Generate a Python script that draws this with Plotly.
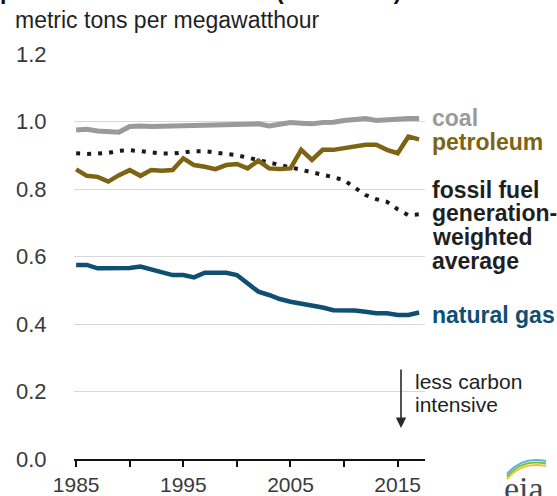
import plotly.graph_objects as go

# Carbon intensity of power sector fossil fuels, metric tons CO2 per MWh
years = list(range(1985, 2018))

coal = [0.975, 0.977, 0.972, 0.969, 0.968, 0.985, 0.987, 0.985, 0.986, 0.986,
        0.987, 0.987, 0.988, 0.989, 0.990, 0.992, 0.993, 0.993, 0.987, 0.993,
        0.997, 0.995, 0.993, 0.997, 0.998, 1.003, 1.005, 1.009, 1.003, 1.006,
        1.009, 1.009, 1.009]

petroleum = [0.858, 0.839, 0.836, 0.822, 0.841, 0.856, 0.839, 0.856, 0.854, 0.856,
             0.891, 0.871, 0.866, 0.859, 0.871, 0.874, 0.861, 0.884, 0.861, 0.859,
             0.861, 0.916, 0.886, 0.916, 0.916, 0.921, 0.926, 0.931, 0.931, 0.916,
             0.906, 0.955, 0.947]

weighted_avg = [0.906, 0.904, 0.905, 0.907, 0.913, 0.915, 0.912, 0.908, 0.905, 0.905,
                0.908, 0.912, 0.912, 0.908, 0.904, 0.900, 0.893, 0.886, 0.878, 0.871,
                0.864, 0.856, 0.849, 0.841, 0.835, 0.826, 0.805, 0.782, 0.770, 0.762,
                0.740, 0.722, 0.725]

natural_gas = [0.575, 0.575, 0.565, 0.565, 0.565, 0.566, 0.570, 0.562, 0.552, 0.545,
               0.545, 0.538, 0.552, 0.552, 0.552, 0.545, 0.520, 0.496, 0.486, 0.474,
               0.466, 0.461, 0.456, 0.449, 0.441, 0.441, 0.440, 0.436, 0.432, 0.432,
               0.427, 0.427, 0.434]

x_tickvals = [1985, 1990, 1995, 2000, 2005, 2010, 2015]
x_ticktext = ["1985", "", "1995", "", "2005", "", "2015"]
y_tickvals = [0.0, 0.2, 0.4, 0.6, 0.8, 1.0, 1.2]
y_ticktext = ["0.0", "0.2", "0.4", "0.6", "0.8", "1.0", "1.2"]

COAL = "#9a9a9a"
PETRO = "#7d6312"
GAS = "#0e4f72"
AVG = "#1a1a1a"
TEXT = "#1f1f1f"
FONT = "Liberation Sans, Arial, sans-serif"

W, H = 557, 496
L, R, T, B = 74, 425, 54, 459


def px(x):
    return (x - L) / (R - L)


def py(y):
    return (B - y) / (B - T)


def py_val(v):
    # paper y of a data value on the 0..1.2 axis
    return v / 1.2


fig = go.Figure()
fig.add_trace(go.Scatter(x=years, y=coal, mode="lines",
                         line=dict(color=COAL, width=5), hoverinfo="skip"))
fig.add_trace(go.Scatter(x=years, y=weighted_avg, mode="lines",
                         line=dict(color=AVG, width=4, dash="4px,7px"), hoverinfo="skip"))
fig.add_trace(go.Scatter(x=years, y=petroleum, mode="lines",
                         line=dict(color=PETRO, width=4.5), hoverinfo="skip"))
fig.add_trace(go.Scatter(x=years, y=natural_gas, mode="lines",
                         line=dict(color=GAS, width=4.5), hoverinfo="skip"))

annotations = []


def label(text, x, y, color, size=23, bold=True, anchor="left"):
    font = dict(family=FONT, size=size, color=color)
    if bold:
        font["weight"] = "bold"
    annotations.append(dict(text=text, x=x, y=y, xref="paper", yref="paper",
                            showarrow=False, xanchor=anchor, yanchor="middle",
                            font=font))


LX = px(430)
label("coal", LX, py_val(1.010), COAL)
label("petroleum", LX, py_val(0.940), PETRO)
for txt, yv in [("fossil fuel", 0.797), ("generation-", 0.729),
                ("weighted", 0.658), ("average", 0.587)]:
    label(txt, LX, py_val(yv), TEXT)
label("natural gas", LX, py_val(0.427), GAS)

label("less carbon", px(413), py(381), TEXT, size=21, bold=False)
label("intensive", px(413), py(404), TEXT, size=21, bold=False)

# downward arrow next to the note
annotations.append(dict(x=px(401), y=py(428), xref="paper", yref="paper",
                        ax=0, ay=-60, axref="pixel", ayref="pixel",
                        showarrow=True, arrowhead=2, arrowsize=1.3, arrowwidth=1.6,
                        arrowcolor="#2a2a2a", text=""))

# heading lines
label("power sector fossil fuels (1985-2017)", px(-2), py(-9), "#111111", size=23)
label("metric tons per megawatthour", px(13), py(20), TEXT, size=23, bold=False)

# agency wordmark
annotations.append(dict(text="eia", x=px(524), y=py(489), xref="paper", yref="paper",
                        showarrow=False, xanchor="center", yanchor="middle",
                        font=dict(family="Liberation Serif, DejaVu Serif, serif",
                                  size=34, color="#3b4a5c")))

shapes = []
for (c, dy) in [("#f3c233", 3), ("#7cbf3d", 0.5), ("#5ab3e2", -2)]:
    x0, y0 = px(507), py(476 + dy)
    cx, cy = px(522), py(458 + dy)
    x1, y1 = px(546), py(463 + dy)
    shapes.append(dict(type="path", xref="paper", yref="paper",
                       path=f"M {x0},{y0} Q {cx},{cy} {x1},{y1}",
                       line=dict(color=c, width=2)))

fig.update_layout(
    width=W, height=H,
    margin=dict(l=L, r=W - R, t=T, b=H - B, autoexpand=False),
    paper_bgcolor="white", plot_bgcolor="white",
    showlegend=False,
    annotations=annotations,
    shapes=shapes,
    xaxis=dict(range=[1984.8, 2017.55], tickvals=x_tickvals, ticktext=x_ticktext,
               automargin=False,
               showgrid=False, zeroline=False, showline=True, linecolor="#111111",
               linewidth=2, ticks="outside", ticklen=6, tickwidth=1.5,
               tickcolor="#111111",
               tickfont=dict(family=FONT, size=21, color="#3a3a3a")),
    yaxis=dict(range=[0, 1.2], tickvals=y_tickvals, ticktext=y_ticktext,
               automargin=False,
               showgrid=True, gridcolor="#d8d8d8", gridwidth=1, zeroline=False,
               showline=False, ticks="outside", ticklen=22,
               tickcolor="rgba(0,0,0,0)",
               tickfont=dict(family=FONT, size=22, color="#3a3a3a")),
)

fig.write_html("out.html")
